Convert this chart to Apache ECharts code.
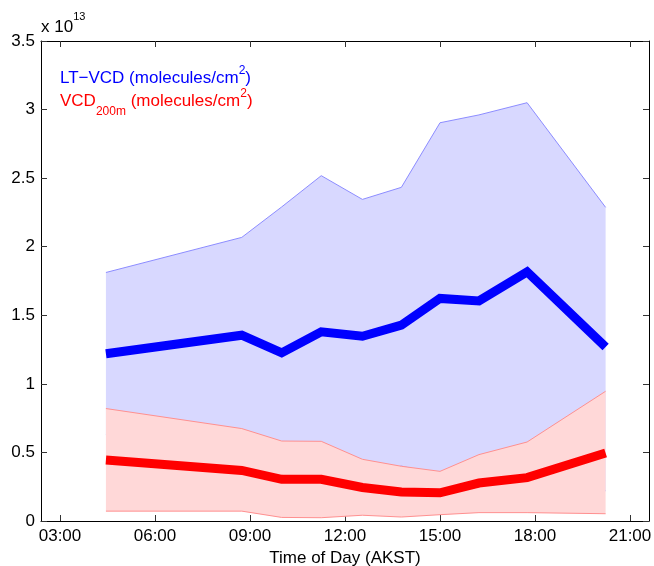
<!DOCTYPE html>
<html>
<head>
<meta charset="utf-8">
<script src="https://cdn.jsdelivr.net/npm/echarts@6/dist/echarts.min.js"></script>
<style>
html,body{margin:0;padding:0;background:#fff;}
#chart{width:654px;height:566px;}
</style>
</head>
<body>
<div id="chart"></div>
<script>
// Hours of day (AKST) of each sample
const hours = [4.45, 8.74, 10.0, 11.25, 12.55, 13.78, 15.0, 16.23, 17.75, 20.23];
// LT-VCD (x 1e13 molecules/cm2)
const ltMean  = [1.22, 1.355, 1.226, 1.379, 1.347, 1.428, 1.623, 1.605, 1.817, 1.269];
const ltUpper = [1.812, 2.068, 2.29, 2.518, 2.345, 2.433, 2.904, 2.961, 3.05, 2.287];
const ltLower = [0.63, 0.64, 0.16, 0.24, 0.35, 0.40, 0.34, 0.25, 0.55, 0.22];
// VCD 200m (x 1e13 molecules/cm2)
const vcdMean  = [0.445, 0.369, 0.304, 0.304, 0.244, 0.211, 0.206, 0.277, 0.316, 0.496];
const vcdUpper = [0.82, 0.674, 0.583, 0.581, 0.45, 0.399, 0.362, 0.484, 0.576, 0.946];
const vcdLower = [0.072, 0.072, 0.026, 0.024, 0.042, 0.029, 0.046, 0.061, 0.061, 0.053];
// Axis ticks
const xTickHours = [3, 6, 9, 12, 15, 18, 21];
const xTickLabels = ['03:00', '06:00', '09:00', '12:00', '15:00', '18:00', '21:00'];

const FONT = 'Liberation Sans';

function bandRenderer(upper, lower, fill, edge) {
  return function (params, api) {
    if (params.dataIndex !== 0) return null;
    const up = hours.map((h, i) => api.coord([h, upper[i]]));
    const lo = hours.map((h, i) => api.coord([h, lower[i]]));
    const poly = up.concat(lo.slice().reverse());
    return {
      type: 'group',
      children: [
        { type: 'polygon', shape: { points: poly }, style: { fill: fill, stroke: null } },
        { type: 'polyline', shape: { points: up }, style: { fill: null, stroke: edge, lineWidth: 1 } },
        { type: 'polyline', shape: { points: lo }, style: { fill: null, stroke: edge, lineWidth: 1 } }
      ]
    };
  };
}

const chart = echarts.init(document.getElementById('chart'), null, { renderer: 'canvas' });

const tickStyle = { show: true, inside: true, length: 6, lineStyle: { color: '#333', width: 1 } };
const lineStyleAxis = { show: true, onZero: false, lineStyle: { color: '#000', width: 1 } };

chart.setOption({
  animation: false,
  backgroundColor: '#fff',
  textStyle: { fontFamily: FONT },
  grid: { left: 41, right: 5, top: 41, bottom: 45, containLabel: false, outerBoundsMode: 'none' },
  xAxis: [
    {
      type: 'value', position: 'bottom', min: 2.4, max: 21.6,
      axisLine: lineStyleAxis,
      axisTick: Object.assign({}, tickStyle, { customValues: xTickHours }),
      axisLabel: {
        customValues: xTickHours, margin: 7, color: '#000', fontSize: 17, fontFamily: FONT,
        formatter: v => xTickLabels[xTickHours.indexOf(Math.round(v))] || ''
      },
      splitLine: { show: false },
      name: 'Time of Day (AKST)', nameLocation: 'middle', nameGap: 24,
      nameTextStyle: { color: '#000', fontSize: 17, fontFamily: FONT }
    },
    {
      type: 'value', position: 'top', min: 2.4, max: 21.6,
      axisLine: lineStyleAxis,
      axisTick: Object.assign({}, tickStyle, { customValues: xTickHours }),
      axisLabel: { show: false },
      splitLine: { show: false }
    }
  ],
  yAxis: [
    {
      type: 'value', position: 'left', min: 0, max: 3.5, interval: 0.5,
      axisLine: lineStyleAxis,
      axisTick: tickStyle,
      axisLabel: { margin: 6, color: '#000', fontSize: 17, fontFamily: FONT },
      splitLine: { show: false }
    },
    {
      type: 'value', position: 'right', min: 0, max: 3.5, interval: 0.5,
      axisLine: lineStyleAxis,
      axisTick: tickStyle,
      axisLabel: { show: false },
      splitLine: { show: false }
    }
  ],
  series: [
    {
      type: 'custom', name: 'LT band', z: 1,
      renderItem: bandRenderer(ltUpper, ltLower, '#d8d8ff', '#8c8cff'),
      data: hours.map((h, i) => [h, ltUpper[i], ltLower[i]]),
      encode: { x: 0, y: [1, 2] }, silent: true
    },
    {
      type: 'custom', name: 'VCD band', z: 2,
      renderItem: bandRenderer(vcdUpper, vcdLower, '#ffd8d8', '#ff9090'),
      data: hours.map((h, i) => [h, vcdUpper[i], vcdLower[i]]),
      encode: { x: 0, y: [1, 2] }, silent: true
    },
    {
      type: 'line', name: 'LT-VCD', z: 3, symbol: 'none',
      data: hours.map((h, i) => [h, ltMean[i]]),
      lineStyle: { color: '#0000ff', width: 9, cap: 'butt', join: 'miter' }
    },
    {
      type: 'line', name: 'VCD200m', z: 4, symbol: 'none',
      data: hours.map((h, i) => [h, vcdMean[i]]),
      lineStyle: { color: '#ff0000', width: 9, cap: 'butt', join: 'miter' }
    }
  ],
  graphic: [
    {
      type: 'text', left: 41, top: 11, z: 10,
      style: {
        text: '{m|x 10}{s|13}',
        rich: {
          m: { fontSize: 17, fontFamily: FONT, fill: '#000', verticalAlign: 'bottom', lineHeight: 33, padding: [0, 0, 8, 0] },
          s: { fontSize: 11, fontFamily: FONT, fill: '#000', verticalAlign: 'top', lineHeight: 33 }
        }
      }
    },
    {
      type: 'text', left: 60, top: 65, z: 10,
      style: {
        text: '{m|LT\u2212VCD (molecules/cm}{s|2}{m|)}',
        rich: {
          m: { fontSize: 17, fontFamily: FONT, fill: '#0000ff', verticalAlign: 'bottom', lineHeight: 30, padding: [0, 0, 8, 0] },
          s: { fontSize: 12, fontFamily: FONT, fill: '#0000ff', verticalAlign: 'top', lineHeight: 30 }
        }
      }
    },
    {
      type: 'text', left: 60, top: 88, z: 10,
      style: {
        text: '{m|VCD}{b|200m}{m| (molecules/cm}{s|2}{m|)}',
        rich: {
          m: { fontSize: 17, fontFamily: FONT, fill: '#ff0000', verticalAlign: 'bottom', lineHeight: 30, padding: [0, 0, 8, 0] },
          b: { fontSize: 12, fontFamily: FONT, fill: '#ff0000', verticalAlign: 'bottom', lineHeight: 30 },
          s: { fontSize: 12, fontFamily: FONT, fill: '#ff0000', verticalAlign: 'top', lineHeight: 30 }
        }
      }
    }
  ]
});
</script>
</body>
</html>
